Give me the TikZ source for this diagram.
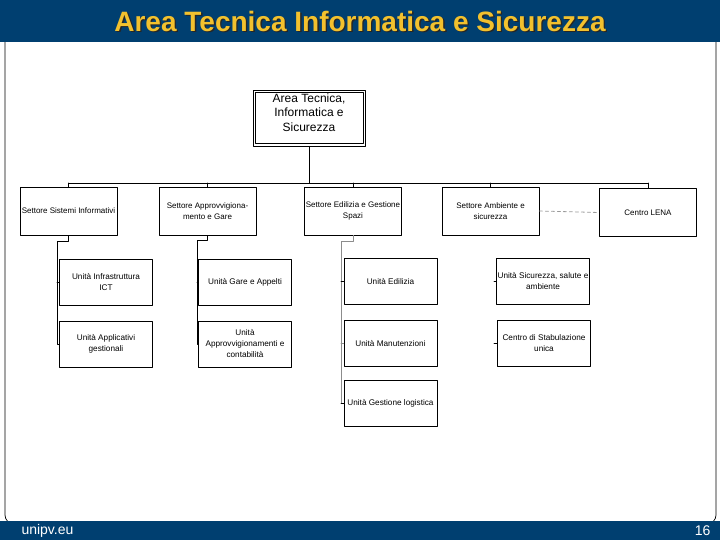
\documentclass[tikz,border=0pt]{standalone}
\usepackage{fontspec}
\setmainfont{Liberation Sans}
\usetikzlibrary{positioning}
\definecolor{unipvblue}{RGB}{0,63,112}
\definecolor{titlegold}{RGB}{242,193,46}

\begin{document}
\begin{tikzpicture}[x=1pt,y=-1pt,line cap=round,line join=round,
  sector/.style={draw,line width=0.8pt,minimum width=97pt,minimum height=48pt,align=center,inner sep=1pt,font=\fontsize{8}{11}\selectfont},
  unit/.style={draw,line width=0.8pt,minimum width=93pt,minimum height=46pt,align=center,inner sep=1pt,font=\fontsize{8.2}{11}\selectfont},
  link/.style={line width=0.8pt},
  glink/.style={line width=0.8pt,black!45}]
\useasboundingbox (0,0) rectangle (720,540);
% slide frame
\draw[line width=0.7pt,rounded corners=9pt] (5,40) -- (5,524) -- (716,524) -- (716,40);
\fill[unipvblue] (0,0) rectangle (720,42);
\fill[unipvblue] (0,521) rectangle (720,540);
\node[font=\bfseries\fontsize{28}{30}\selectfont,text=black!85] (titleshadow) at (361.4,22.4) {Area Tecnica Informatica e Sicurezza};
\node[font=\bfseries\fontsize{28}{30}\selectfont,text=titlegold] (title) at (360,21) {Area Tecnica Informatica e Sicurezza};
\node[anchor=west,font=\fontsize{14}{16}\selectfont,text=white] (site) at (18,531) {unipv.eu};
\node[anchor=east,font=\fontsize{14}{16}\selectfont,text=white] (page) at (714,531) {16};
% top of the chart
\node[draw,line width=0.8pt,minimum width=112pt,minimum height=56pt] (area) at (309,118) {};
\draw[line width=0.8pt] ([shift={(2.5,2.5)}]area.north west) rectangle ([shift={(-2.5,-2.5)}]area.south east);
\node[align=center,inner sep=0pt,font=\fontsize{12}{14.5}\selectfont] (areatext) at (309,112.5) {Area Tecnica,\\Informatica e\\Sicurezza};
\coordinate (busL) at (68.5,183);
\coordinate (busR) at (648,183);
% sectors
\node[sector] (ssi) at (68.5,211) {Settore Sistemi Informativi};
\node[sector] (sag) at (207.5,211) {Settore Approvvigiona-\\mento e Gare};
\node[sector] (ses) at (353,211) {Settore Edilizia e Gestione\\Spazi};
\node[sector] (sas) at (490.5,211) {Settore Ambiente e\\sicurezza};
\node[sector] (lena) at (648,212.5) {Centro LENA};
\draw[link] (area.south) -- (area.south |- busL);
\draw[link] (busL) -- (busR);
\draw[link] (ssi.north) -- (ssi.north |- busL);
\draw[link] (sag.north) -- (sag.north |- busL);
\draw[link] (ses.north) -- (ses.north |- busL);
\draw[link] (sas.north) -- (sas.north |- busL);
\draw[link] (lena.north) -- (busR);
\draw[dashed,black!40,line width=0.8pt] (sas.east) -- (lena.west);
% units
\node[unit] (uict) at (106,282) {Unità Infrastruttura\\ICT};
\node[unit] (uag) at (106,344) {Unità Applicativi\\gestionali};
\node[unit] (ugare) at (245,282) {Unità Gare e Appelti};
\node[unit] (uacq) at (245,344) {Unità\\Approvvigionamenti e\\contabilità};
\node[unit] (uedil) at (390.5,281.5) {Unità Edilizia};
\node[unit] (umanut) at (390.5,343.5) {Unità Manutenzioni};
\node[unit] (ulog) at (390.5,403) {Unità Gestione logistica};
\node[unit] (usic) at (543,281.5) {Unità Sicurezza, salute e\\ambiente};
\node[unit] (ustab) at (544,343.5) {Centro di Stabulazione\\unica};
\coordinate (k1) at (57,241);
\coordinate (k2) at (197,240);
\coordinate (k3) at (341,241);
\coordinate (k4) at (494,0);
\draw[link] (ssi.south) |- (k1) -- (k1 |- uag.west) -- (uag.west);
\draw[link] (k1 |- uict.west) -- (uict.west);
\draw[link] (sag.south) |- (k2) -- (k2 |- uacq.west) -- (uacq.west);
\draw[link] (k2 |- ugare.west) -- (ugare.west);
\draw[glink] (ses.south) |- (k3) -- (k3 |- ulog.west);
\draw[link] (k3 |- uedil.west) -- (uedil.west);
\draw[glink] (k3 |- umanut.west) -- (umanut.west);
\draw[link] (k3 |- ulog.west) -- (ulog.west);
\draw[link] (k4 |- usic.west) -- (usic.west);
\draw[link] (k4 |- ustab.west) -- (ustab.west);
\end{tikzpicture}
\end{document}
